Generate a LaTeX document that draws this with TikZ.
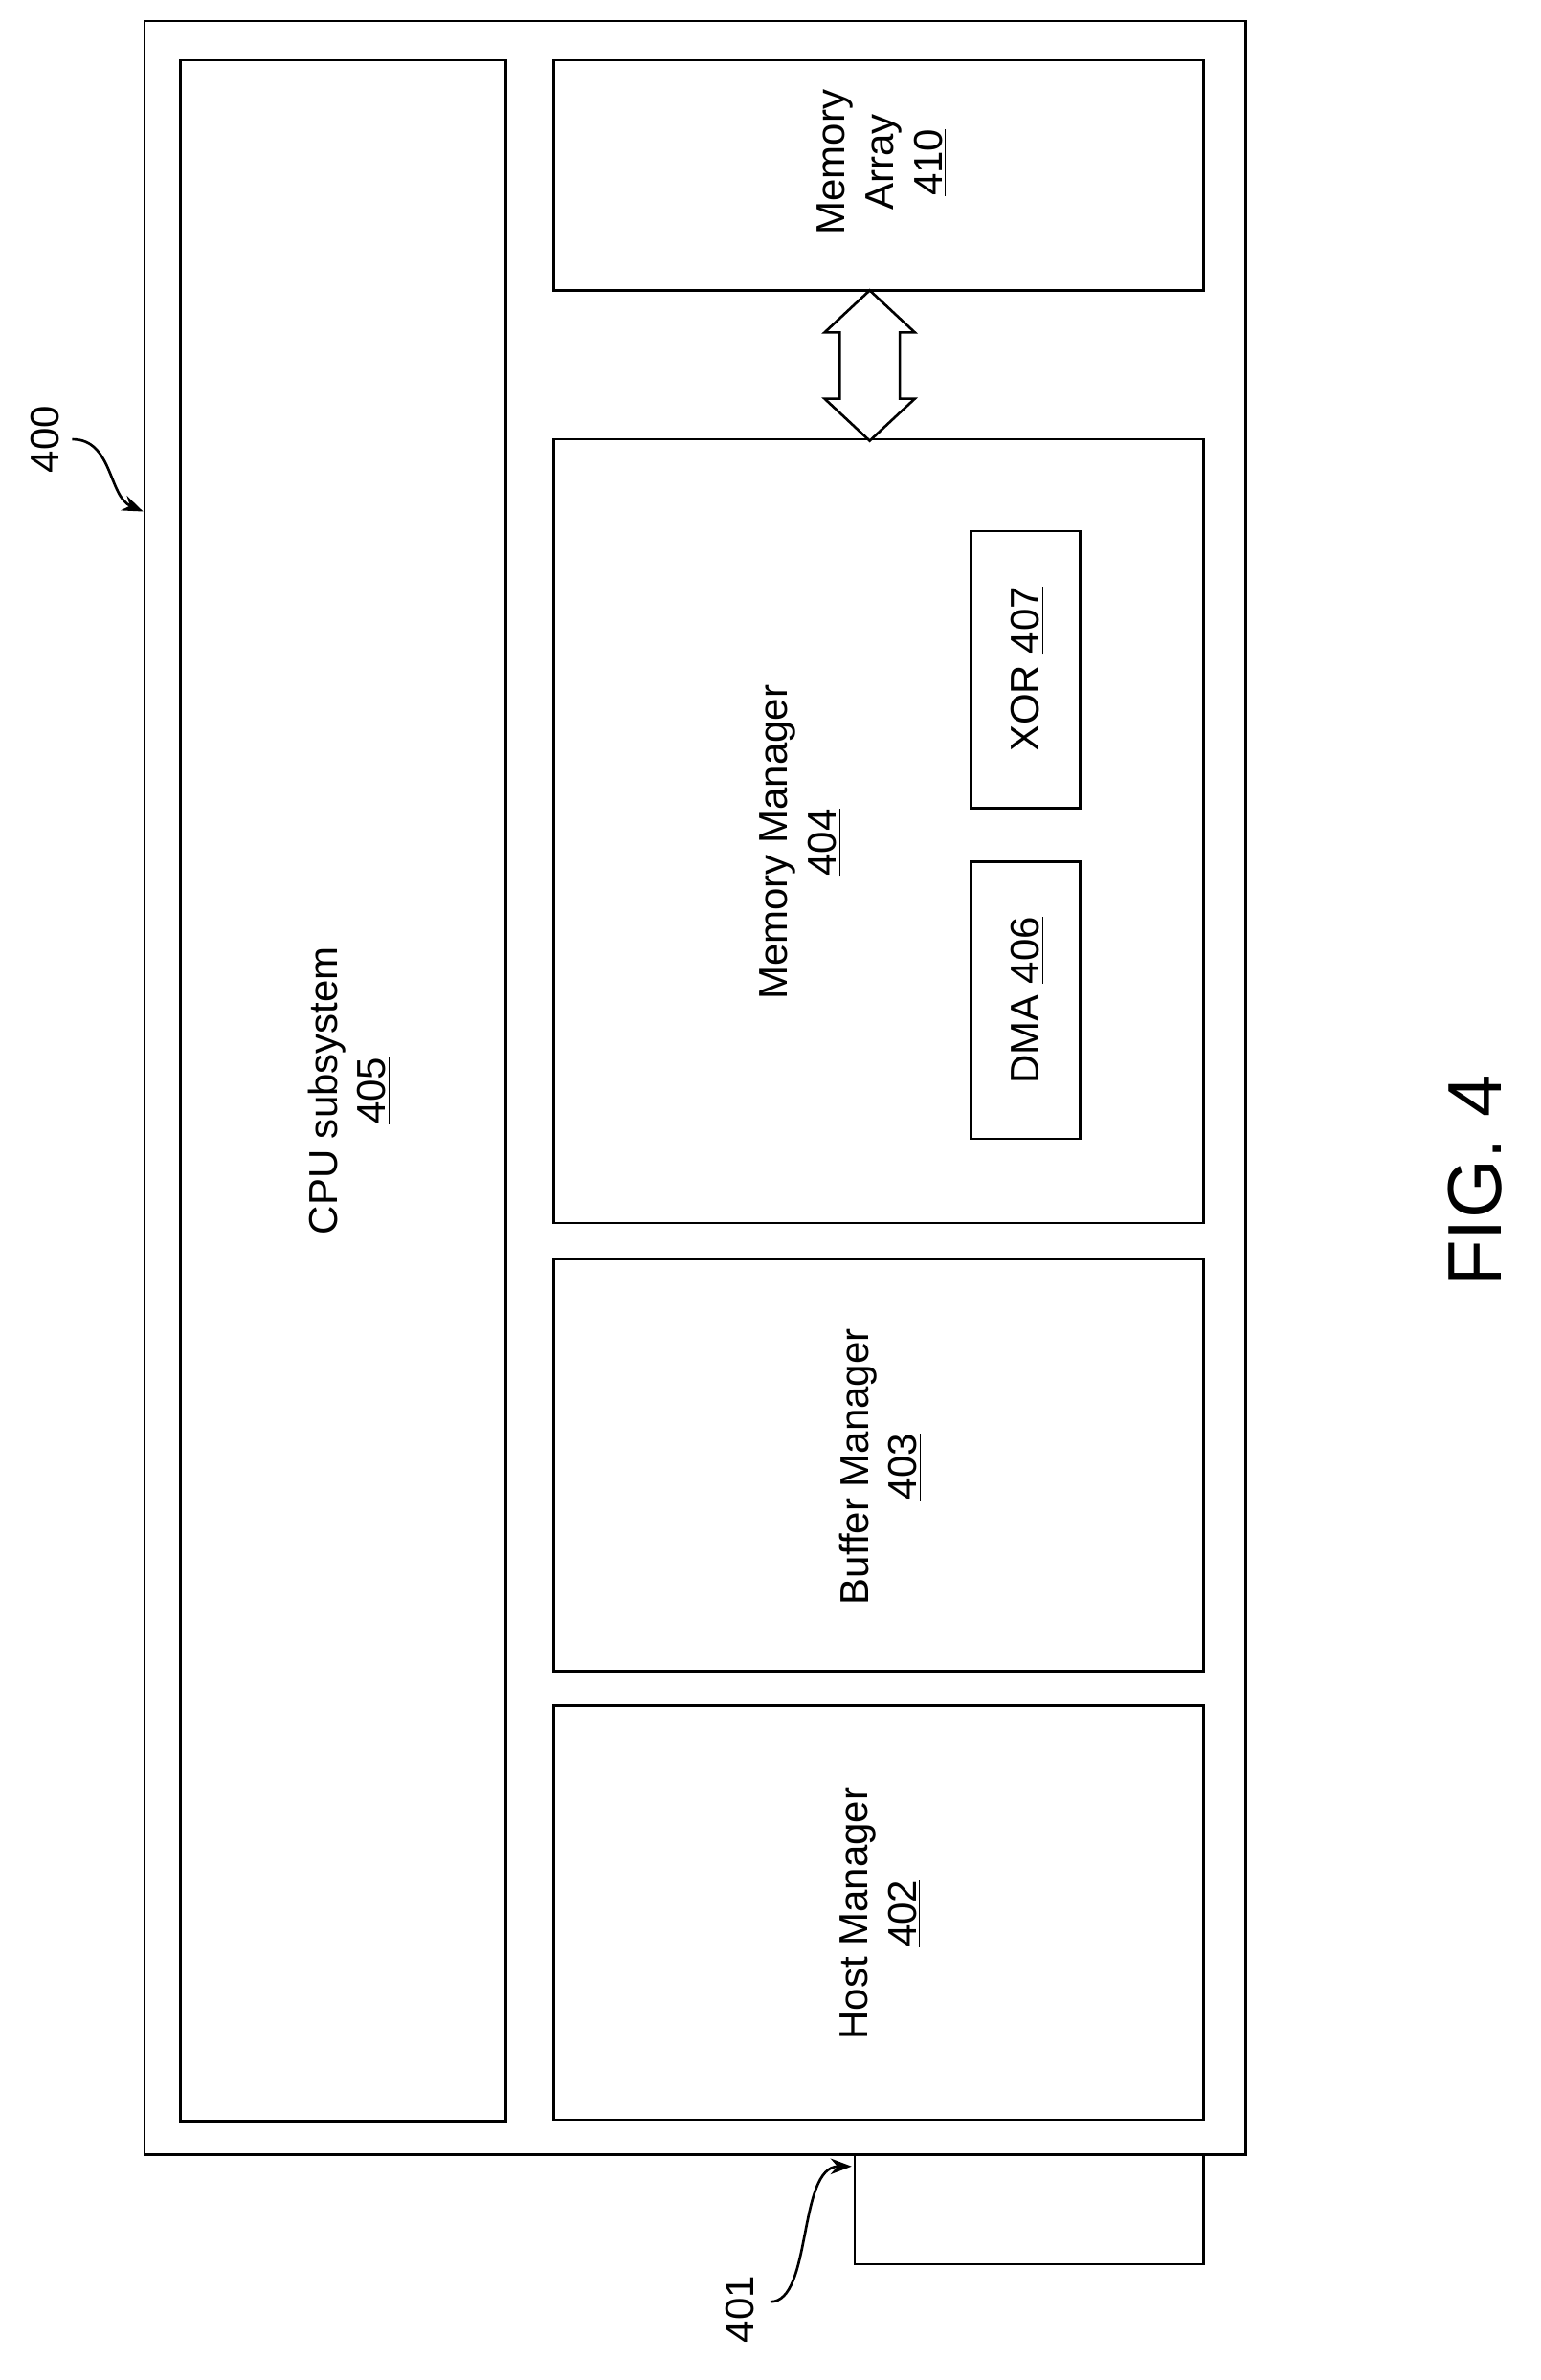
\documentclass[tikz,border=0pt]{standalone}
\usepackage{fontspec}
\setmainfont{Liberation Sans}
\usetikzlibrary{fit,arrows.meta}
\tikzset{
    box/.style={draw, line width=1.2pt, inner sep=0pt},
    lbl/.style={rotate=90, align=center, font=\fontsize{19}{23}\selectfont},
}
\begin{document}
\begin{tikzpicture}[x=0.025cm, y=-0.025cm]
    \useasboundingbox (0,0) rectangle (1024,1582);
    % outer device and port
    \node [box, fit={(96,14) (828,1432)}] (dev) {};
    \node [box, fit={(568,1432) (800,1505)}] (port) {};

    % blocks
    \node [box, fit={(120,40) (336,1410)}] (cpu) {};
    \node [box, fit={(368,40) (800,193)}] (arr) {};
    \node [box, fit={(368,292) (800,813)}] (mm) {};
    \node [box, fit={(645,353) (718,537)}] (xor) {};
    \node [box, fit={(645,573) (718,757)}] (dma) {};
    \node [box, fit={(368,837) (800,1111)}] (bm) {};
    \node [box, fit={(368,1134) (800,1409)}] (hm) {};

    \node [lbl] (cpuT) at (232,725) {CPU subsystem\\\underline{405}};
    \node [lbl] (arrT) at (586,108) {Memory\\Array\\\underline{410}};
    \node [lbl] (mmT) at (532,560) {Memory Manager\\\underline{404}};
    \node [lbl] (xorT) at (683,445) {XOR \underline{407}};
    \node [lbl] (dmaT) at (683,665) {DMA \underline{406}};
    \node [lbl] (bmT) at (585,975) {Buffer Manager\\\underline{403}};
    \node [lbl] (hmT) at (585,1272) {Host Manager\\\underline{402}};

    % hollow double arrow
    \draw [line width=1.2pt, fill=white] (578,193) -- (608,221) -- (598,221) -- (598,265)
        -- (608,265) -- (578,293) -- (548,265) -- (558,265) -- (558,221) -- (548,221) -- cycle;

    % reference labels
    \node [lbl] (n400) at (30,292) {400};
    \node [lbl] (n401) at (492,1535) {401};
    \draw [-{Stealth[length=10pt]}, line width=1.2pt] (48,292) .. controls (75,292) and (72,330) .. (dev.north west |- 0,340);
    \draw [-{Stealth[length=10pt]}, line width=1.2pt] (512,1530) .. controls (540,1530) and (530,1440) .. (566,1440);

    \node [rotate=90, font=\fontsize{36}{40}\selectfont] (fig) at (980,785) {FIG. 4};
\end{tikzpicture}
\end{document}
